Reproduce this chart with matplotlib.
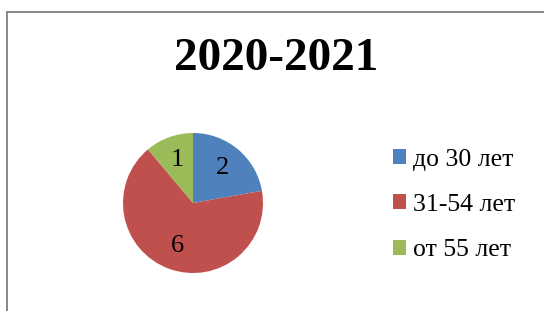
import matplotlib
matplotlib.use('Agg')
from matplotlib import pyplot as plt
from matplotlib.patches import Rectangle, Patch

title = '2020-2021'
categories = ['до 30 лет', '31-54 лет', 'от 55 лет']
counts = [2, 6, 1]
colors = ['#4F81BD', '#C0504D', '#9BBB59']

plt.rcParams['font.family'] = ['Liberation Serif', 'DejaVu Serif']

W, H = 544, 311
fig = plt.figure(figsize=(W/100, H/100), dpi=100)

# frame of the chart area, cut off at right and bottom
fig.patches.append(Rectangle((7/W, -0.1), 1.2, (H - 11.5)/H + 0.1, transform=fig.transFigure,
                             fill=False, edgecolor='#888888', linewidth=1.4))

fig.text(276/W, 1 - 59/H, title, ha='center', va='center', fontsize=34, fontweight='bold')

# pie axes: center (193, 203) px, radius ~70 px
cx, cy, r = 193/W, 1 - 203/H, 70
ax = fig.add_axes([cx - r/W, cy - r/H, 2*r/W, 2*r/H])
wedges, texts = ax.pie(counts, colors=colors, startangle=90, counterclock=False,
                       labels=[str(c) for c in counts], labeldistance=0.65,
                       textprops={'fontsize': 19, 'ha': 'center', 'va': 'center'},
                       wedgeprops={'linewidth': 0})
ax.set_xlim(-1, 1)
ax.set_ylim(-1, 1)
ax.set_aspect('equal')
ax.axis('off')

handles = [Patch(facecolor=c, edgecolor='none') for c in colors]
fig.legend(handles, categories, loc='center left', bbox_to_anchor=(370/W, 1 - 205/H),
           frameon=False, fontsize=18.5, handlelength=0.52, handleheight=0.52,
           handletextpad=0.25, labelspacing=0.9)

fig.savefig('out.png', dpi=100)
